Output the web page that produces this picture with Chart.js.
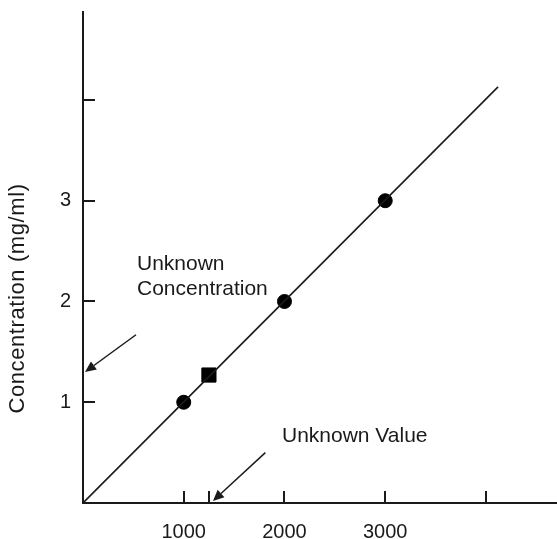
<!DOCTYPE html>
<html>
<head>
<meta charset="utf-8">
<script src="https://cdn.jsdelivr.net/npm/chart.js@4.4.1/dist/chart.umd.min.js"></script>
<style>
html,body{margin:0;padding:0;background:#fff;overflow:hidden;}
#wrap{width:557px;height:539px;}
</style>
</head>
<body>
<div id="wrap"><canvas id="c"></canvas></div>
<script>
// ---- data ----
const standardX = [1000, 2000, 3000];
const standardY = [1, 2, 3];
const unknownX = [1250];
const unknownY = [1.27];
const fitLineX = [0, 4120];
const fitLineY = [0, 4.13];
const xTickValues = [1000, 1250, 2000, 3000, 4000];
const xTickLabels = ['1000', '', '2000', '3000', ''];
const yTickValues = [1, 2, 3, 4];
const yTickLabels = ['1', '2', '3', ''];
const yTitle = 'Concentration (mg/ml)';
// annotations (data units)
const noteTexts = ['Unknown', 'Concentration', 'Unknown Value'];
const noteX = [536, 536, 1975];
const noteY = [2.31, 2.065, 0.605];
const arrowFromX = [526, 1810];
const arrowFromY = [1.67, 0.50];
const arrowToX = [20, 1290];
const arrowToY = [1.30, 0.02];

const FONT = '"Liberation Sans", Arial, Helvetica, sans-serif';
const INK = '#1a1a1a';

const innerTicks = {
  id: 'innerTicks',
  afterDraw(chart) {
    const ctx = chart.ctx, xs = chart.scales.x, ys = chart.scales.y, a = chart.chartArea;
    ctx.save();
    ctx.strokeStyle = INK; ctx.lineWidth = 2;
    xTickValues.forEach(v => {
      const px = Math.round(xs.getPixelForValue(v));
      ctx.beginPath(); ctx.moveTo(px, a.bottom); ctx.lineTo(px, a.bottom - 12); ctx.stroke();
    });
    yTickValues.forEach(v => {
      const py = Math.round(ys.getPixelForValue(v));
      ctx.beginPath(); ctx.moveTo(a.left, py); ctx.lineTo(a.left + 12, py); ctx.stroke();
    });
    ctx.fillStyle = INK;
    // y axis title
    ctx.save();
    ctx.translate(24, ys.getPixelForValue(2.03));
    ctx.rotate(-Math.PI / 2);
    ctx.font = '22px ' + FONT;
    try { ctx.letterSpacing = '0.6px'; } catch (e) {}
    ctx.textAlign = 'center'; ctx.textBaseline = 'alphabetic';
    ctx.fillText(yTitle, 0, 0);
    ctx.restore();
    // texts
    ctx.font = '21px ' + FONT;
    ctx.textBaseline = 'alphabetic'; ctx.textAlign = 'left';
    noteTexts.forEach((t, i) => {
      ctx.fillText(t, xs.getPixelForValue(noteX[i]), ys.getPixelForValue(noteY[i]));
    });
    // arrows
    ctx.lineWidth = 1.5;
    arrowFromX.forEach((_, i) => {
      const x1 = xs.getPixelForValue(arrowFromX[i]), y1 = ys.getPixelForValue(arrowFromY[i]);
      const x2 = xs.getPixelForValue(arrowToX[i]), y2 = ys.getPixelForValue(arrowToY[i]);
      const ang = Math.atan2(y2 - y1, x2 - x1);
      const L = 11, W = 5;
      const bx = x2 - L * Math.cos(ang), by = y2 - L * Math.sin(ang);
      ctx.beginPath(); ctx.moveTo(x1, y1); ctx.lineTo(bx, by); ctx.stroke();
      ctx.beginPath();
      ctx.moveTo(x2, y2);
      ctx.lineTo(bx + W * Math.sin(ang), by - W * Math.cos(ang));
      ctx.lineTo(bx - W * Math.sin(ang), by + W * Math.cos(ang));
      ctx.closePath(); ctx.fill();
    });
    ctx.restore();
  }
};

function noPad(s) { s.paddingTop = 0; s.paddingBottom = 0; s.paddingLeft = 0; s.paddingRight = 0; }

new Chart(document.getElementById('c'), {
  type: 'scatter',
  data: {
    datasets: [
      {
        type: 'line',
        data: fitLineX.map((x, i) => ({x, y: fitLineY[i]})),
        borderColor: INK, borderWidth: 1.6, pointRadius: 0, fill: false, tension: 0
      },
      {
        data: standardX.map((x, i) => ({x, y: standardY[i]})),
        backgroundColor: '#000', borderColor: '#000', pointRadius: 7, pointHoverRadius: 7
      },
      {
        data: unknownX.map((x, i) => ({x, y: unknownY[i]})),
        pointStyle: 'rect', backgroundColor: '#000', borderColor: '#000', pointRadius: 10, pointHoverRadius: 10
      }
    ]
  },
  options: {
    responsive: true, maintainAspectRatio: false, animation: false,
    layout: {autoPadding: false, padding: {top: 12, right: 0, left: 0, bottom: 0}},
    plugins: {legend: {display: false}, tooltip: {enabled: false}},
    scales: {
      x: {
        type: 'linear', min: 0, max: 4705,
        afterFit(s) { s.height = 36; noPad(s); },
        afterBuildTicks(s) { s.ticks = xTickValues.map(v => ({value: v})); },
        grid: {display: false, drawTicks: false},
        border: {display: true, color: INK, width: 2},
        ticks: {
          autoSkip: false, maxRotation: 0, padding: 17, color: INK,
          font: {size: 20, family: FONT},
          callback: (v, i) => xTickLabels[i]
        }
      },
      y: {
        type: 'linear', min: 0, max: 4.873,
        afterFit(s) { s.width = 83; noPad(s); },
        afterBuildTicks(s) { s.ticks = yTickValues.map(v => ({value: v})); },
        grid: {display: false, drawTicks: false},
        border: {display: true, color: INK, width: 2},
        ticks: {
          autoSkip: false, padding: 12, color: INK,
          font: {size: 20, family: FONT},
          callback: (v, i) => yTickLabels[i]
        }
      }
    }
  },
  plugins: [innerTicks]
});
</script>
</body>
</html>
